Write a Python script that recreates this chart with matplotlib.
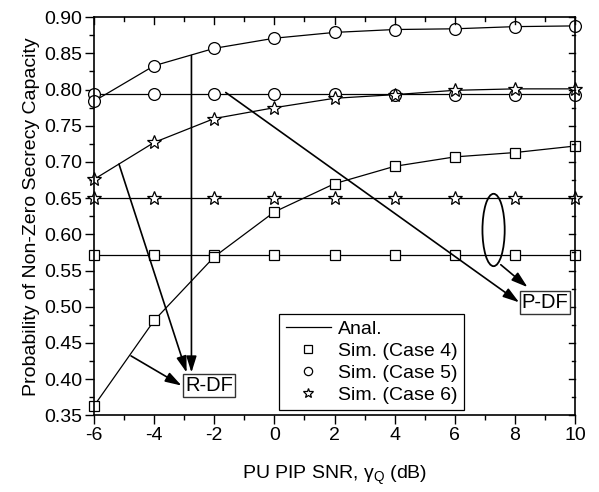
import numpy as np
import matplotlib
matplotlib.use("Agg")
import matplotlib.pyplot as plt
from matplotlib.patches import Ellipse
from matplotlib.ticker import MultipleLocator, FormatStrFormatter

plt.rcParams['font.family'] = ['Liberation Sans', 'DejaVu Sans']
plt.rcParams['mathtext.fontset'] = 'custom'
plt.rcParams['mathtext.rm'] = 'Liberation Sans'
plt.rcParams['mathtext.it'] = 'Liberation Sans'
plt.rcParams['axes.unicode_minus'] = False

# SNR grid (dB)
snr = [-6, -4, -2, 0, 2, 4, 6, 8, 10]

# R-DF (rising curves)
rdf_case4 = [0.363, 0.481, 0.569, 0.631, 0.670, 0.694, 0.707, 0.713, 0.722]
rdf_case5 = [0.784, 0.833, 0.857, 0.871, 0.879, 0.883, 0.884, 0.887, 0.888]
rdf_case6 = [0.676, 0.727, 0.760, 0.775, 0.788, 0.793, 0.799, 0.801, 0.801]

# P-DF (flat lines)
pdf_case4 = [0.572, 0.572, 0.572, 0.572, 0.572, 0.572, 0.572, 0.572, 0.572]
pdf_case5 = [0.794, 0.794, 0.794, 0.794, 0.794, 0.793, 0.792, 0.792, 0.792]
pdf_case6 = [0.650, 0.650, 0.650, 0.650, 0.650, 0.650, 0.650, 0.650, 0.650]
pdf_anal = {4: 0.572, 5: 0.794, 6: 0.650}

FS = 14

fig = plt.figure(figsize=(5.99, 4.92), dpi=100)
ax = fig.add_axes([0.157, 0.156, 0.803, 0.809])

lw = 0.9
ax.plot(snr, rdf_case4, '-', color='black', lw=lw)
ax.plot(snr, rdf_case5, '-', color='black', lw=lw)
ax.plot(snr, rdf_case6, '-', color='black', lw=lw)
for k in (4, 5, 6):
    ax.plot([snr[0], snr[-1]], [pdf_anal[k]] * 2, '-', color='black', lw=lw)

mk = dict(ls='none', mfc='white', mec='black', mew=0.9, clip_on=False)
ax.plot(snr, pdf_case4, marker='s', ms=7.5, **mk)
ax.plot(snr, rdf_case4, marker='s', ms=7.5, **mk)
ax.plot(snr, pdf_case5, marker='o', ms=8.5, **mk)
ax.plot(snr, rdf_case5, marker='o', ms=8.5, **mk)
ax.plot(snr, pdf_case6, marker='*', ms=10.5, **mk)
ax.plot(snr, rdf_case6, marker='*', ms=10.5, **mk)

# legend proxies
h_line, = ax.plot([], [], '-', color='black', lw=lw)
h_sq, = ax.plot([], [], marker='s', ms=7.5, **mk)
h_ci, = ax.plot([], [], marker='o', ms=8.5, **mk)
h_st, = ax.plot([], [], marker='*', ms=10.5, **mk)
leg = ax.legend([h_line, h_sq, h_ci, h_st],
                ['Anal.', 'Sim. (Case 4)', 'Sim. (Case 5)', 'Sim. (Case 6)'],
                loc='lower left', bbox_to_anchor=(0.385, 0.012), fontsize=14,
                frameon=True, fancybox=False, edgecolor='black', framealpha=1,
                markerscale=0.7, handlelength=2.3, handletextpad=0.35,
                borderpad=0.35, labelspacing=0.22, borderaxespad=0)
leg.get_frame().set_linewidth(0.9)

# annotations
arr = dict(arrowstyle='-|>,head_length=0.7,head_width=0.22', color='black', lw=1.2,
           mutation_scale=14, shrinkA=0, shrinkB=0)
ax.text(-2.18, 0.391, 'R-DF', fontsize=14.5, ha='center', va='center',
        bbox=dict(boxstyle='square,pad=0.1', fc='white', ec='#333333', lw=1))
ax.annotate('', xy=(-2.92, 0.409), xytext=(-5.17, 0.697), arrowprops=arr)
ax.annotate('', xy=(-2.76, 0.409), xytext=(-2.76, 0.847), arrowprops=arr)
ax.annotate('', xy=(-3.09, 0.391), xytext=(-4.77, 0.432), arrowprops=arr)

ax.text(9.0, 0.506, 'P-DF', fontsize=14.5, ha='center', va='center',
        bbox=dict(boxstyle='square,pad=0.1', fc='white', ec='#333333', lw=1))
ax.annotate('', xy=(8.14, 0.506), xytext=(-1.62, 0.796), arrowprops=arr)
ax.annotate('', xy=(8.42, 0.527), xytext=(7.53, 0.558), arrowprops=arr)
ax.add_patch(Ellipse((7.29, 0.606), 0.74, 0.100, fill=False, ec='black', lw=1.3))

ax.set_xlim(-6, 10)
ax.set_ylim(0.35, 0.90)
ax.xaxis.set_major_locator(MultipleLocator(2))
ax.xaxis.set_minor_locator(MultipleLocator(1))
ax.yaxis.set_major_locator(MultipleLocator(0.05))
ax.yaxis.set_minor_locator(MultipleLocator(0.025))
ax.yaxis.set_major_formatter(FormatStrFormatter('%.2f'))
ax.tick_params(which='both', direction='out', top=False, right=False, labelsize=FS, width=1)
ax.tick_params(which='major', length=6.5, pad=2)
ax.tick_params(which='minor', length=3.5)
for s in ax.spines.values():
    s.set_linewidth(1.2)

# inward ticks on top and right
for xv in np.arange(-6, 10.1, 1):
    L = 0.017 if xv % 2 == 0 else 0.009
    ax.plot([xv, xv], [1, 1 - L], transform=ax.get_xaxis_transform(), color='black', lw=1, clip_on=False)
for yv in np.arange(0.35, 0.9001, 0.025):
    L = 0.0135 if round(yv / 0.025) % 2 == 0 else 0.007
    ax.plot([1, 1 - L], [yv, yv], transform=ax.get_yaxis_transform(), color='black', lw=1, clip_on=False)

ax.set_xlabel(r'PU PIP SNR, $\gamma_{\rm Q}$ (dB)', fontsize=FS, labelpad=14)
ax.set_ylabel('Probability of Non-Zero Secrecy Capacity', fontsize=14, labelpad=3)

fig.savefig('out.png', dpi=100)
